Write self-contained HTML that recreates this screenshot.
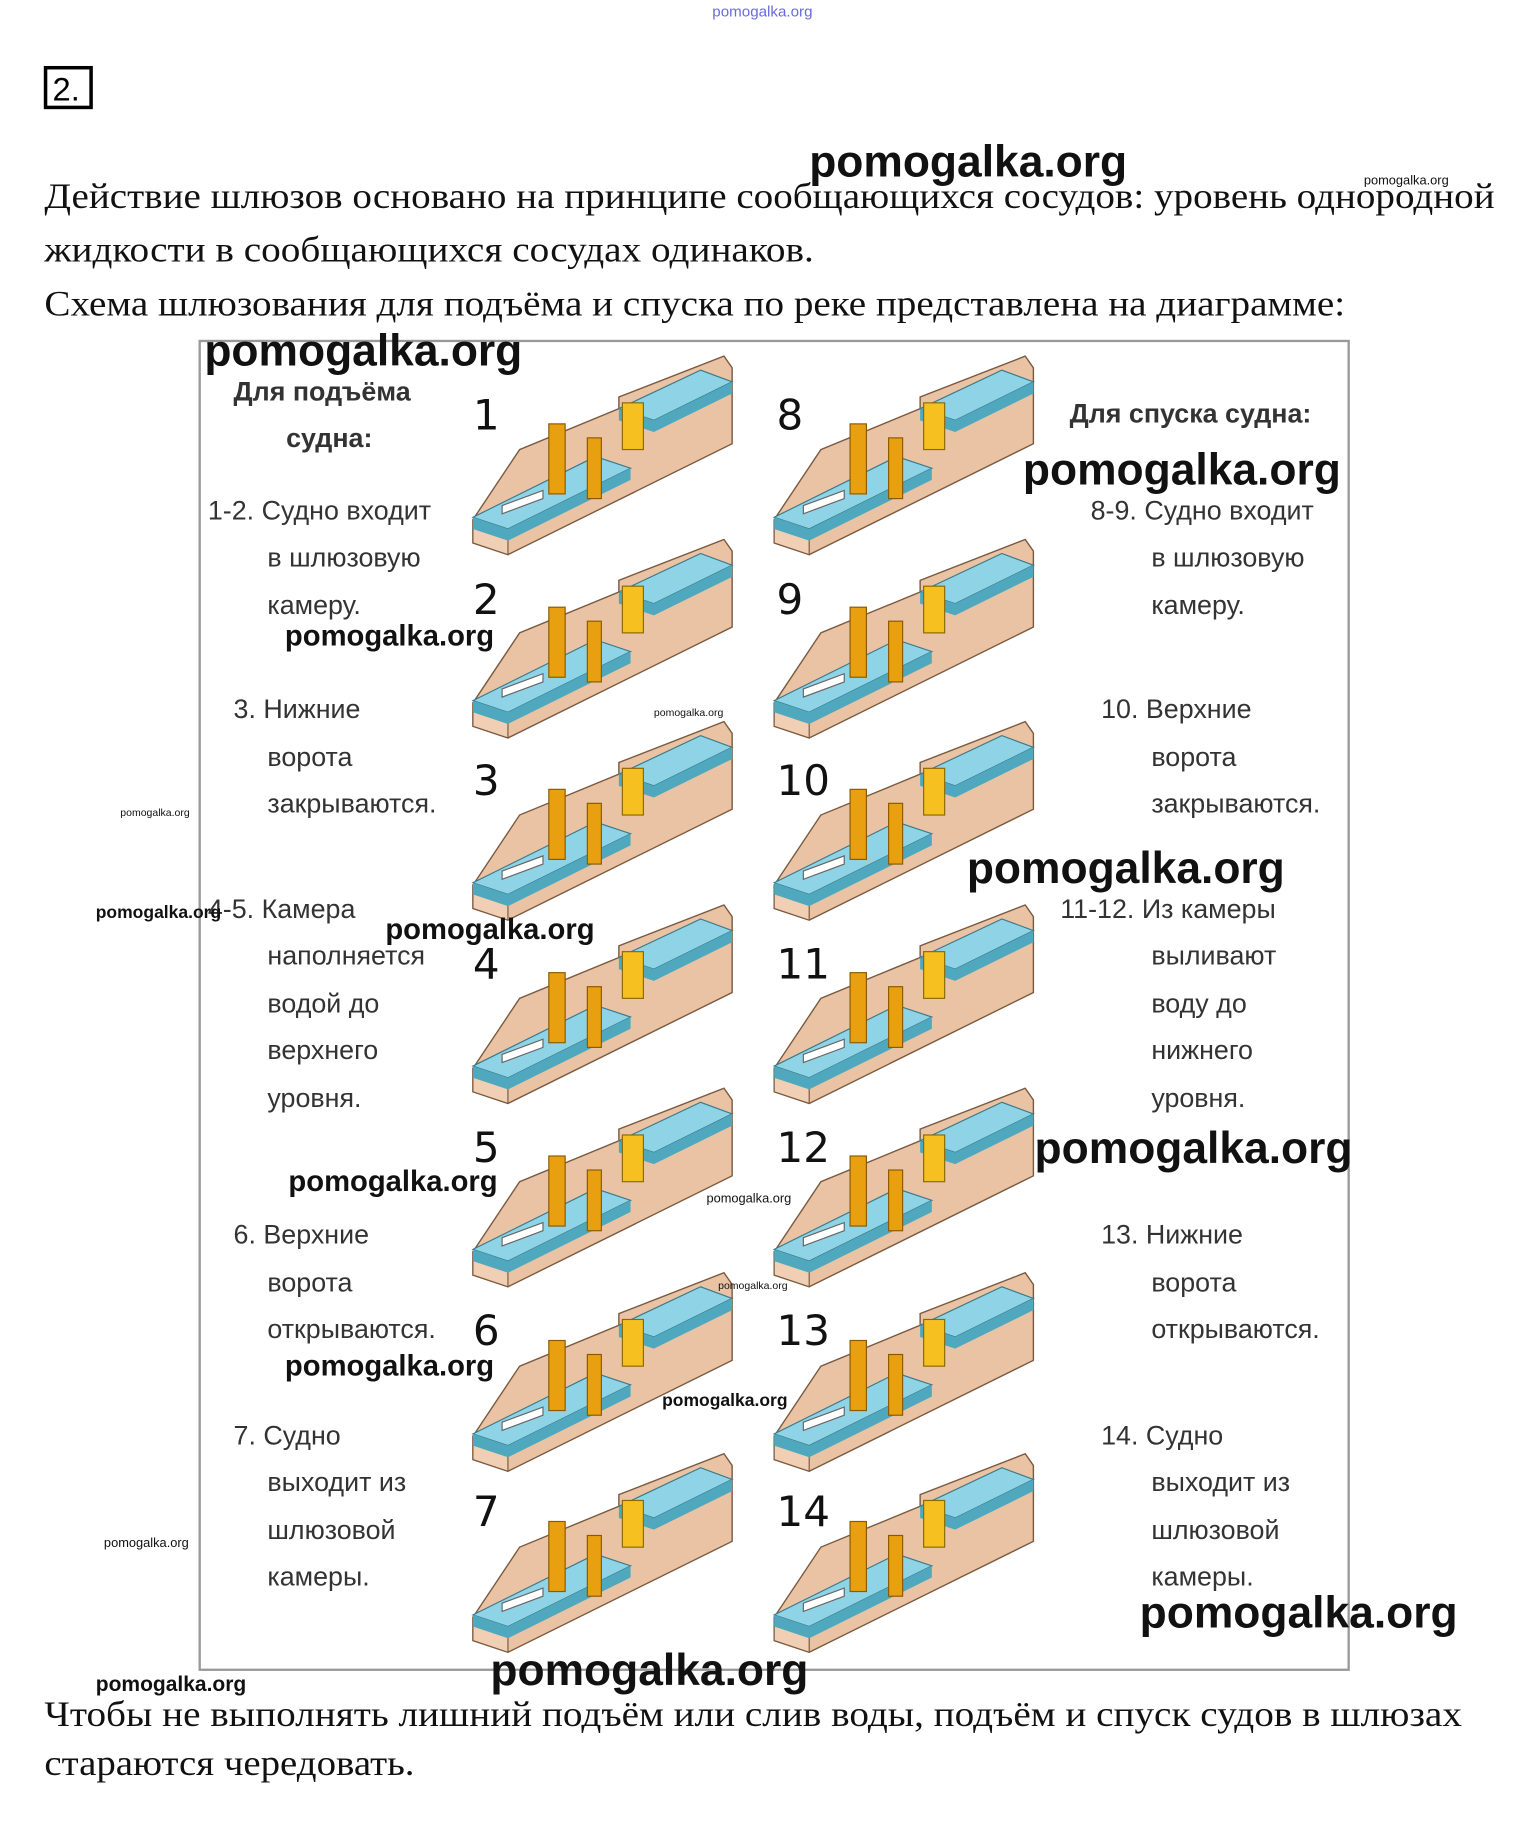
<!DOCTYPE html>
<html><head><meta charset="utf-8"><style>body{margin:0;background:#fff}svg{display:block}</style></head><body>
<svg width="1532" height="1826" viewBox="0 0 1312 1563.8" xmlns="http://www.w3.org/2000/svg">
<defs>
<g id="lk">
<path d="M0,140 L40,80 L125,45 L125,35 L215,0 L222,10 L222,75 L30,170 L0,160 Z" fill="#e9c3a4" stroke="#7a5a40" stroke-width="1.2"/>
<path d="M0,140 L30,150 L30,170 L0,160 Z" fill="#f0cfb4" stroke="#7a5a40"/>
<path d="M0,138 L30,148 L135,96 L105,86 Z" fill="#8fd4e6" stroke="#3a7a8a"/>
<path d="M0,148 L30,158 L135,106 L135,96 L30,148 L0,138 Z" fill="#4fa8bd"/>
<path d="M125,45 L155,55 L222,22 L195,12 Z" fill="#8fd4e6" stroke="#3a7a8a"/>
<path d="M125,55 L155,65 L222,32 L222,22 L155,55 L125,45 Z" fill="#4fa8bd"/>
<path d="M25,128 L60,115 L60,122 L25,135 Z" fill="#fff" stroke="#666"/>
<rect x="65" y="58" width="14" height="60" fill="#e8a010" stroke="#8a5a00"/>
<rect x="98" y="70" width="12" height="52" fill="#e8a010" stroke="#8a5a00"/>
<rect x="128" y="40" width="18" height="40" fill="#f5c020" stroke="#8a6a00"/>
</g>
</defs>
<text x="610" y="14" font-family="Liberation Sans,sans-serif" font-size="13" fill="#6a6ae0">pomogalka.org</text>
<rect x="39" y="58" width="39" height="34" fill="none" stroke="#000" stroke-width="3"/>
<text x="45" y="86" font-family="Liberation Sans,sans-serif" font-size="28">2.</text>
<g font-family="Liberation Serif,serif" font-size="31" fill="#111">
<text x="38" y="178" textLength="1242" lengthAdjust="spacingAndGlyphs">Действие шлюзов основано на принципе сообщающихся сосудов: уровень однородной</text>
<text x="38" y="224" textLength="659" lengthAdjust="spacingAndGlyphs">жидкости в сообщающихся сосудах одинаков.</text>
<text x="38" y="270" textLength="1114" lengthAdjust="spacingAndGlyphs">Схема шлюзования для подъёма и спуска по реке представлена на диаграмме:</text>
<text x="38" y="1478" textLength="1214" lengthAdjust="spacingAndGlyphs">Чтобы не выполнять лишний подъём или слив воды, подъём и спуск судов в шлюзах</text>
<text x="38" y="1520" textLength="317" lengthAdjust="spacingAndGlyphs">стараются чередовать.</text>
</g>
<rect x="171" y="292" width="984" height="1138" fill="none" stroke="#999" stroke-width="2"/>
<g>
<use href="#lk" x="405" y="305"/><use href="#lk" x="405" y="462"/><use href="#lk" x="405" y="618"/><use href="#lk" x="405" y="775"/><use href="#lk" x="405" y="932"/><use href="#lk" x="405" y="1090"/><use href="#lk" x="405" y="1245"/>
<use href="#lk" x="663" y="305"/><use href="#lk" x="663" y="462"/><use href="#lk" x="663" y="618"/><use href="#lk" x="663" y="775"/><use href="#lk" x="663" y="932"/><use href="#lk" x="663" y="1090"/><use href="#lk" x="663" y="1245"/>
</g>
<g font-family="DejaVu Sans,sans-serif" font-size="36" fill="#111">
<text x="405" y="368">1</text><text x="405" y="526">2</text><text x="405" y="681">3</text><text x="405" y="838">4</text><text x="405" y="995">5</text><text x="405" y="1152">6</text><text x="405" y="1307">7</text>
<text x="665" y="368">8</text><text x="665" y="526">9</text><text x="665" y="681">10</text><text x="665" y="838">11</text><text x="665" y="995">12</text><text x="665" y="1152">13</text><text x="665" y="1307">14</text>
</g>
<g font-family="Liberation Sans,sans-serif" font-size="23" fill="#333">
<text x="200" y="343" font-weight="bold">Для подъёма</text><text x="245" y="383" font-weight="bold">судна:</text>
<text x="916" y="362" font-weight="bold">Для спуска судна:</text>
<text x="178" y="445">1-2. Судно входит</text><text x="229" y="485">в шлюзовую</text><text x="229" y="526">камеру.</text>
<text x="200" y="615">3. Нижние</text><text x="229" y="656">ворота</text><text x="229" y="696">закрываются.</text>
<text x="178" y="786">4-5. Камера</text><text x="229" y="826">наполняется</text><text x="229" y="867">водой до</text><text x="229" y="907">верхнего</text><text x="229" y="948">уровня.</text>
<text x="200" y="1065">6. Верхние</text><text x="229" y="1106">ворота</text><text x="229" y="1146">открываются.</text>
<text x="200" y="1237">7. Судно</text><text x="229" y="1277">выходит из</text><text x="229" y="1318">шлюзовой</text><text x="229" y="1358">камеры.</text>
<text x="934" y="445">8-9. Судно входит</text><text x="986" y="485">в шлюзовую</text><text x="986" y="526">камеру.</text>
<text x="943" y="615">10. Верхние</text><text x="986" y="656">ворота</text><text x="986" y="696">закрываются.</text>
<text x="908" y="786">11-12. Из камеры</text><text x="986" y="826">выливают</text><text x="986" y="867">воду до</text><text x="986" y="907">нижнего</text><text x="986" y="948">уровня.</text>
<text x="943" y="1065">13. Нижние</text><text x="986" y="1106">ворота</text><text x="986" y="1146">открываются.</text>
<text x="943" y="1237">14. Судно</text><text x="986" y="1277">выходит из</text><text x="986" y="1318">шлюзовой</text><text x="986" y="1358">камеры.</text>
</g>
<g font-family="Liberation Sans,sans-serif" font-weight="bold" fill="#111">
<text x="693" y="151" font-size="38">pomogalka.org</text>
<text x="175" y="313" font-size="38">pomogalka.org</text>
<text x="876" y="415" font-size="38">pomogalka.org</text>
<text x="828" y="756" font-size="38">pomogalka.org</text>
<text x="886" y="996" font-size="38">pomogalka.org</text>
<text x="976" y="1394" font-size="38">pomogalka.org</text>
<text x="420" y="1443" font-size="38">pomogalka.org</text>
<text x="244" y="553" font-size="25">pomogalka.org</text>
<text x="330" y="804" font-size="25">pomogalka.org</text>
<text x="247" y="1020" font-size="25">pomogalka.org</text>
<text x="244" y="1178" font-size="25">pomogalka.org</text>
<text x="82" y="786" font-size="15">pomogalka.org</text>
<text x="567" y="1204" font-size="15">pomogalka.org</text>
<text x="82" y="1448" font-size="18">pomogalka.org</text>
<text x="1168" y="158" font-size="11" font-weight="normal">pomogalka.org</text>
<text x="560" y="613" font-size="9" font-weight="normal">pomogalka.org</text>
<text x="103" y="699" font-size="9" font-weight="normal">pomogalka.org</text>
<text x="605" y="1030" font-size="11" font-weight="normal">pomogalka.org</text>
<text x="615" y="1104" font-size="9" font-weight="normal">pomogalka.org</text>
<text x="89" y="1325" font-size="11" font-weight="normal">pomogalka.org</text>
</g>
</svg>
</body></html>
